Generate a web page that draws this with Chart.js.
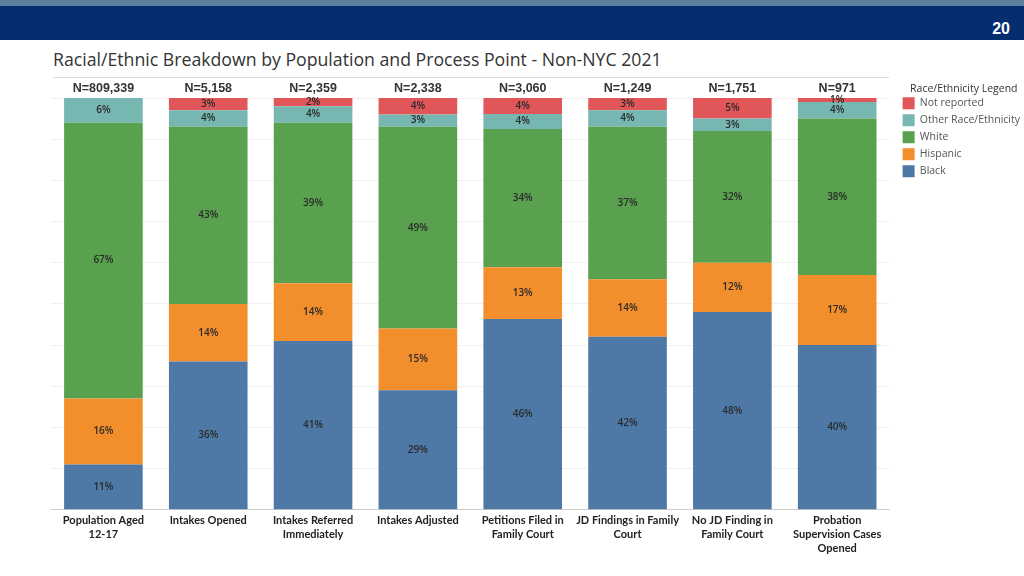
<!DOCTYPE html>
<html>
<head>
<meta charset="utf-8">
<script src="https://cdn.jsdelivr.net/npm/chart.js@4"></script>
<style>
  body { margin: 0; width: 1024px; height: 576px; overflow: hidden; background: #fff; position: relative; font-family: "Open Sans", sans-serif; }
  .strip { position: absolute; left: 0; top: 0; width: 1024px; height: 6px; background: #5f7f9e; }
  .band { position: absolute; left: 0; top: 6px; width: 1024px; height: 34px; background: #062d6f; }
  .page { position: absolute; right: 14px; top: 20px; color: #fff; font: bold 16px "Liberation Sans", Arial, sans-serif; }
  .title { position: absolute; left: 53px; top: 47px; color: #333; font-size: 17.7px; }
  .rule { position: absolute; left: 53px; top: 77px; width: 836px; height: 1px; background: #d9d9d9; }
  .wrap { position: absolute; left: 51px; top: 78px; width: 971px; height: 498px; }
</style>
</head>
<body>
<div class="strip"></div>
<div class="band"></div>
<div class="page">20</div>
<div class="title">Racial/Ethnic Breakdown by Population and Process Point - Non-NYC 2021</div>
<div class="rule"></div>
<div class="wrap"><canvas id="chartRaza"></canvas></div>
<script>
const categorias = [
    ['Population Aged', '12-17'],
    ['Intakes Opened'],
    ['Intakes Referred', 'Immediately'],
    ['Intakes Adjusted'],
    ['Petitions Filed in', 'Family Court'],
    ['JD Findings in Family', 'Court'],
    ['No JD Finding in', 'Family Court'],
    ['Probation', 'Supervision Cases', 'Opened']
];
const totales = ['N=809,339', 'N=5,158', 'N=2,359', 'N=2,338', 'N=3,060', 'N=1,249', 'N=1,751', 'N=971'];

const black = [11, 36, 41, 29, 46.3, 42, 48, 40];
const hispanic = [16, 14, 14, 15, 12.6, 14, 12, 17];
const white = [67, 43, 39, 49, 33.6, 37, 32, 38];
const other = [6, 4, 4, 3, 3.6, 4, 3, 4];
const notReported = [0, 3, 2, 4, 3.9, 3, 5, 1];

// etiquetas de porcentaje dentro de cada segmento
const etiquetas = {
    id: 'etiquetas',
    afterDatasetsDraw(chart) {
        const ctx = chart.ctx;
        ctx.save();
        ctx.font = '600 10px "Open Sans"';
        ctx.fillStyle = '#2a2a2a';
        ctx.textAlign = 'center';
        ctx.textBaseline = 'middle';
        chart.data.datasets.forEach((ds, i) => {
            const meta = chart.getDatasetMeta(i);
            meta.data.forEach((bar, j) => {
                const v = ds.data[j];
                if (!v) return;
                ctx.fillText(Math.round(v) + '%', bar.x, (bar.y + bar.base) / 2);
            });
        });
        ctx.restore();
    }
};

// separa un poco la leyenda de las barras
const moverLeyenda = {
    id: 'moverLeyenda',
    afterLayout(chart) {
        if (chart.legend) {
            chart.legend.left += 8;
            chart.legend.right += 8;
        }
    }
};

const ctxRaza = document.getElementById('chartRaza');
new Chart(ctxRaza, {
    type: 'bar',
    data: {
        labels: categorias,
        datasets: [
            { label: 'Black', data: black, backgroundColor: '#4e79a7' },
            { label: 'Hispanic', data: hispanic, backgroundColor: '#f28e2b' },
            { label: 'White', data: white, backgroundColor: '#59a14f' },
            { label: 'Other Race/Ethnicity', data: other, backgroundColor: '#76b7b2' },
            { label: 'Not reported', data: notReported, backgroundColor: '#e15759' }
        ]
    },
    options: {
        responsive: true,
        maintainAspectRatio: false,
        animation: false,
        datasets: { bar: { categoryPercentage: 1, barPercentage: 0.75 } },
        layout: { padding: { top: 1, right: 0, left: 0, bottom: 17 } },
        plugins: {
            tooltip: { enabled: false },
            legend: {
                position: 'right',
                align: 'start',
                reverse: true,
                title: { display: true, text: 'Race/Ethnicity Legend', color: '#333', font: { family: 'Open Sans', size: 10.5 }, padding: { top: 5, bottom: -4.3 } },
                labels: { boxWidth: 12, boxHeight: 12, padding: 5, color: '#555', font: { family: 'Open Sans', size: 10.5 } }
            }
        },
        scales: {
            x: {
                stacked: true,
                grid: { display: false, drawTicks: false },
                border: { color: '#cccccc' },
                ticks: { color: '#222', maxRotation: 0, autoSkip: false, padding: 4, font: { family: 'Lato', weight: 'bold', size: 11, lineHeight: 1.25 } }
            },
            xTop: {
                type: 'category',
                position: 'top',
                labels: totales,
                grid: { display: false, drawTicks: false },
                border: { display: false },
                ticks: { color: '#333', padding: 2, font: { family: 'Liberation Sans', weight: 'bold', size: 12.5 } }
            },
            y: {
                stacked: true,
                min: 0,
                max: 100,
                ticks: { display: false, stepSize: 10 },
                grid: { color: '#f0f0f0', drawTicks: false },
                border: { display: false }
            }
        }
    },
    plugins: [etiquetas, moverLeyenda]
});
</script>
</body>
</html>
